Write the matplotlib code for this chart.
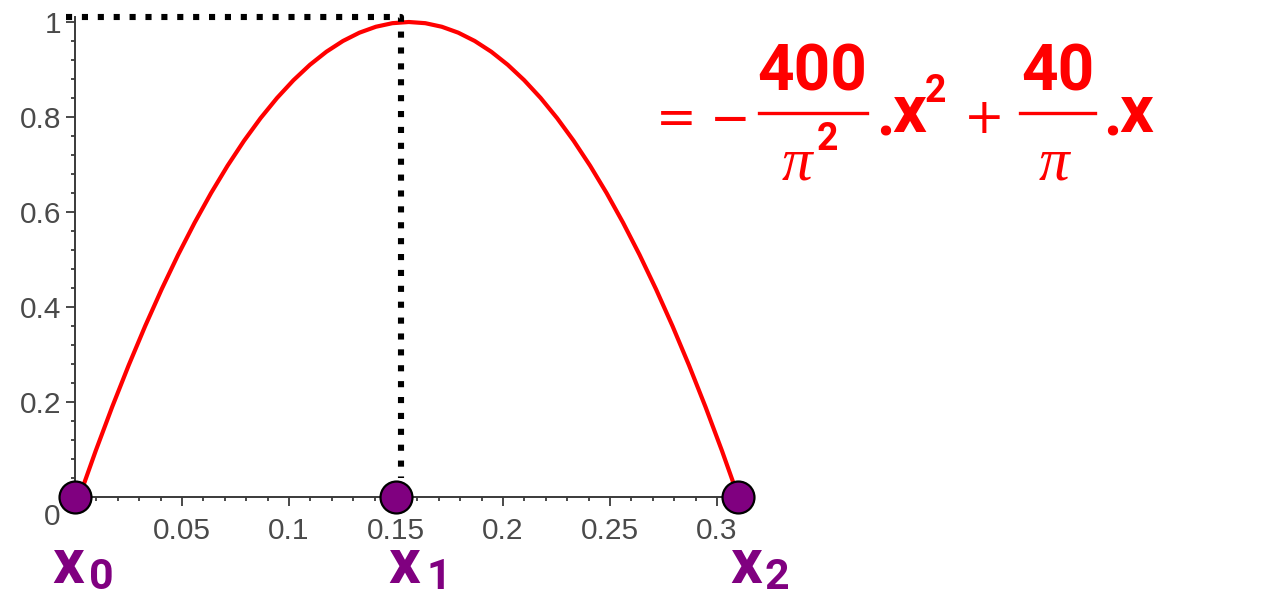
import matplotlib
matplotlib.use('Agg')
import matplotlib.pyplot as plt
from matplotlib.ticker import FixedLocator, NullFormatter
from matplotlib.lines import Line2D

# ---------------- data ----------------
curve_x = [0.0020, 0.0097, 0.0174, 0.0251, 0.0328, 0.0405, 0.0482, 0.0559, 0.0636,
           0.0713, 0.0790, 0.0867, 0.0944, 0.1021, 0.1098, 0.1175, 0.1252, 0.1329,
           0.1406, 0.1483, 0.1560, 0.1637, 0.1714, 0.1791, 0.1868, 0.1945, 0.2022,
           0.2099, 0.2176, 0.2253, 0.2330, 0.2407, 0.2484, 0.2561, 0.2638, 0.2715,
           0.2792, 0.2869, 0.2946, 0.3023, 0.3100]
curve_y = [0.0, 0.0975, 0.19, 0.2775, 0.36, 0.4375, 0.51, 0.5775, 0.64, 0.6975,
           0.75, 0.7975, 0.84, 0.8775, 0.91, 0.9375, 0.96, 0.9775, 0.99, 0.9975,
           1.0,
           0.9975, 0.99, 0.9775, 0.96, 0.9375, 0.91, 0.8775, 0.84, 0.7975, 0.75,
           0.6975, 0.64, 0.5775, 0.51, 0.4375, 0.36, 0.2775, 0.19, 0.0975, 0.0]

point_x = [0.0, 0.15, 0.31]
point_y = [0.0, 0.0, 0.0]
point_subs = ['0', '1', '2']

guide_x = [-0.004, 0.1523, 0.1523]
guide_y = [1.01, 1.01, 0.04]

xticks_major = [0.05, 0.1, 0.15, 0.2, 0.25, 0.3]
xtick_labels = ['0.05', '0.1', '0.15', '0.2', '0.25', '0.3']
xticks_minor = [i / 100 for i in range(1, 31)]
yticks_major = [0.2, 0.4, 0.6, 0.8, 1.0]
ytick_labels = ['0.2', '0.4', '0.6', '0.8', '1']
yticks_minor = [i * 0.04 for i in range(1, 26)]

# ---------------- layout ----------------
W, H = 1263, 599
X0PX, XSCALE = 75, 2140.0
Y0PX, YSCALE = 497, 475.0

plt.rcParams['font.family'] = ['Liberation Sans', 'DejaVu Sans']

fig = plt.figure(figsize=(W / 100, H / 100), dpi=100)
fig.patch.set_facecolor('white')
ax = fig.add_axes([0, 0, 1, 1])
ax.set_xlim(-X0PX / XSCALE, (W - X0PX) / XSCALE)
ax.set_ylim((Y0PX - H) / YSCALE, Y0PX / YSCALE)
ax.patch.set_alpha(0)

axis_col = '#3a3a3a'
lab_col = '#4a4a4a'
for s in ['top', 'right']:
    ax.spines[s].set_visible(False)
ax.spines['left'].set_position(('data', 0))
ax.spines['bottom'].set_position(('data', 0))
ax.spines['left'].set_bounds(0, 1.01)
ax.spines['bottom'].set_bounds(0, 0.31)
for s in ['left', 'bottom']:
    ax.spines[s].set_color(axis_col)
    ax.spines[s].set_linewidth(1.4)

ax.xaxis.set_major_locator(FixedLocator(xticks_major))
ax.xaxis.set_minor_locator(FixedLocator(xticks_minor))
ax.set_xticklabels(xtick_labels)
ax.xaxis.set_minor_formatter(NullFormatter())
ax.yaxis.set_major_locator(FixedLocator(yticks_major))
ax.yaxis.set_minor_locator(FixedLocator(yticks_minor))
ax.set_yticklabels(ytick_labels)
ax.yaxis.set_minor_formatter(NullFormatter())

ax.tick_params(axis='both', which='major', direction='out', length=6.3, width=1.3,
               color=axis_col, labelsize=21.5, labelcolor=lab_col)
ax.tick_params(axis='both', which='minor', direction='out', length=3.2, width=1.3,
               color=axis_col)
ax.tick_params(axis='x', which='major', pad=8.0)
ax.tick_params(axis='y', which='major', pad=3.6)

def px(x, y):
    return x / W, 1 - y / H

fig.text(*px(52, 517), '0', fontsize=21.5, color=lab_col, ha='center', va='center')

# curve
ax.plot(curve_x, curve_y, color='#ff0000', lw=3.0, zorder=3, solid_joinstyle='round',
        solid_capstyle='round')

# dotted guide
ax.plot(guide_x, guide_y, color='black', lw=4.4, linestyle=(0, (1, 1.6)),
        dash_capstyle='butt', zorder=4, clip_on=False)

# points
ax.scatter(point_x, point_y, s=23 ** 2, c='#800080', edgecolors='black',
           linewidths=1.6, zorder=6, clip_on=False)

# point labels x0, x1, x2
purple = '#800080'
lab_x_px = [52, 388, 730]
sub_x_px = [89, 427, 764]
for i, sub in enumerate(point_subs):
    fig.text(*px(lab_x_px[i], 583), 'x', fontsize=45, fontweight='bold', color=purple,
             family='Roboto', ha='left', va='baseline')
    fig.text(*px(sub_x_px[i], 598), sub, fontsize=31, fontweight='bold', color=purple,
             family='Roboto', ha='left', va='bottom')

# equation
red = '#ff0000'
bold = dict(family='Roboto', fontweight='bold', color=red)
op = dict(fontsize=35, color=red, family='DejaVu Sans', ha='center',
          va='center_baseline')
fig.text(*px(676, 115), '=', **op)
fig.text(*px(730, 115), '\u2212', **op)
fig.text(*px(984, 114), '+', **op)

fig.text(*px(812, 90), '400', fontsize=46, ha='center', va='baseline', **bold)
fig.text(*px(1058, 90), '40', fontsize=46, ha='center', va='baseline', **bold)
for x1, x2 in [(759, 867), (1020, 1095)]:
    fig.add_artist(Line2D([x1 / W, x2 / W], [1 - 113 / H, 1 - 113 / H],
                          transform=fig.transFigure, color=red, lw=2.4))
pi_style = dict(family='Liberation Serif', style='italic', color=red, fontsize=44)
fig.text(*px(797, 180), '\u03c0', ha='center', va='baseline', **pi_style)
fig.text(*px(1054, 180), '\u03c0', ha='center', va='baseline', **pi_style)
fig.text(*px(827, 150), '2', fontsize=27, ha='center', va='baseline', **bold)
fig.text(*px(885, 135), '.', fontsize=46, ha='center', va='baseline', **bold)
fig.text(*px(909, 132), 'x', fontsize=48, ha='center', va='baseline', **bold)
fig.text(*px(935, 102), '2', fontsize=27, ha='center', va='baseline', **bold)
fig.text(*px(1112, 135), '.', fontsize=46, ha='center', va='baseline', **bold)
fig.text(*px(1136, 132), 'x', fontsize=48, ha='center', va='baseline', **bold)

fig.savefig('out.png', dpi=100, facecolor='white')
